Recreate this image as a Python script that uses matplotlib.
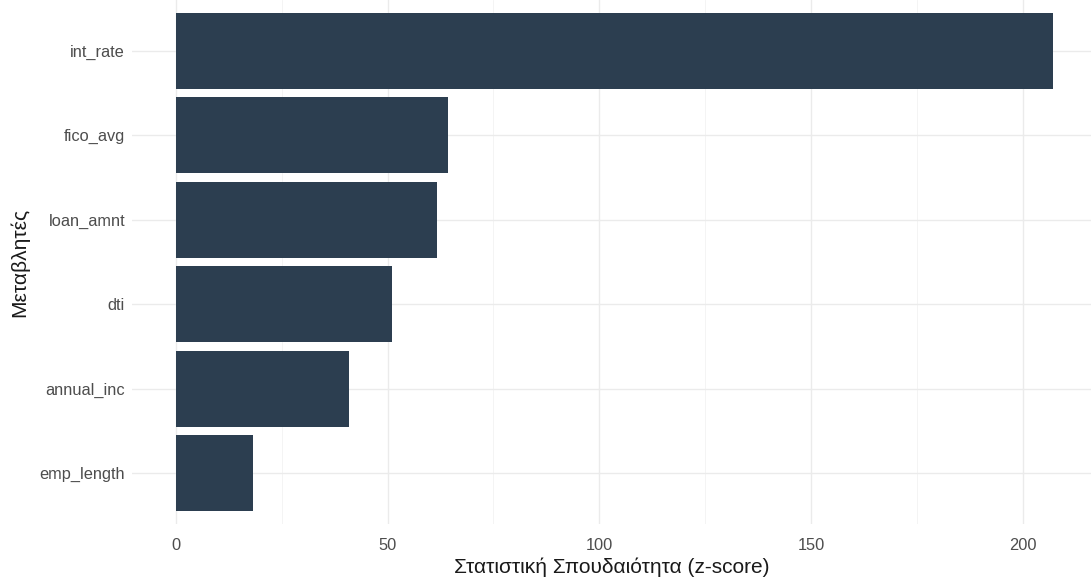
import matplotlib
matplotlib.use('Agg')
import matplotlib.pyplot as plt

# data (bottom to top)
variables = ['emp_length', 'annual_inc', 'dti', 'loan_amnt', 'fico_avg', 'int_rate']
z_scores = [18.3, 40.9, 51.1, 61.7, 64.2, 207.1]

plt.rcParams['font.family'] = ['Liberation Sans', 'DejaVu Sans']

W, H = 1091, 579
fig = plt.figure(figsize=(W / 100, H / 100), dpi=100)
# panel in pixel coords: x 132..1091, y 0..524
ax = fig.add_axes([132 / W, 1 - 524 / H, (1091 - 132) / W, 524 / H])

pos = list(range(1, len(variables) + 1))
ax.barh(pos, z_scores, height=0.9, color='#2c3e50', zorder=3)

ax.set_xlim(-10.36, 216.1)
ax.set_ylim(0.4, 6.6)

ax.set_xticks([0, 50, 100, 150, 200])
ax.set_xticks([25, 75, 125, 175], minor=True)
ax.set_yticks(pos)
ax.set_yticklabels(variables)

ax.grid(True, which='major', color='#ebebeb', linewidth=1.0, zorder=0)
ax.grid(True, which='minor', axis='x', color='#f3f3f3', linewidth=0.6, zorder=0)
for s in ax.spines.values():
    s.set_visible(False)
ax.tick_params(which='both', length=0)
ax.tick_params(axis='both', labelsize=11.8, labelcolor='#4d4d4d')
ax.tick_params(axis='y', pad=5)
ax.tick_params(axis='x', pad=10)

ax.set_xlabel('Στατιστική Σπουδαιότητα (z-score)', fontsize=15, color='#1a1a1a', labelpad=3)
ax.set_ylabel('Μεταβλητές', fontsize=15, color='#1a1a1a', labelpad=7)

fig.savefig('out.png', dpi=100, facecolor='white')
